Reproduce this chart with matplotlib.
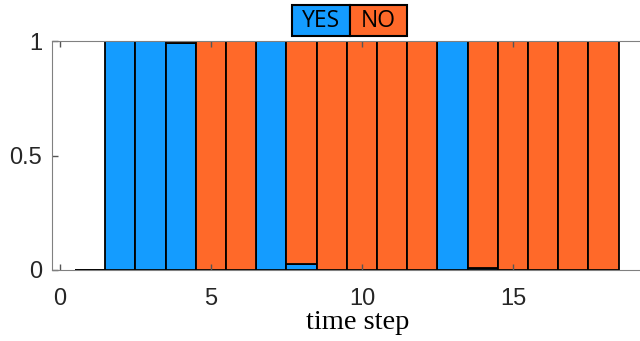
import numpy as np
import matplotlib.pyplot as plt
from matplotlib.patches import Rectangle

# fraction of YES / NO answers per time step
steps = np.arange(1, 19)
yes = [0, 1, 1, 0.99, 0, 0, 1, 0.025, 0, 0, 0, 0, 1, 0.008, 0, 0, 0, 0]
no = [0, 0, 0, 0.01, 1, 1, 0, 0.975, 1, 1, 1, 1, 0, 0.992, 1, 1, 1, 1]
labels = ['YES', 'NO']
colors = ['#149cff', '#ff6929']

fig = plt.figure(figsize=(6.4, 3.41), dpi=100)
ax = fig.add_axes([52/640, 71/341, 612/640, 229/341])

ax.bar(steps, yes, width=1, color=colors[0], edgecolor='black', lw=1.3)
ax.bar(steps, no, width=1, bottom=yes, color=colors[1], edgecolor='black', lw=1.3)

ax.set_xlim(-0.26, 20)
ax.set_ylim(0, 1)
ax.set_xticks([0, 5, 10, 15])
ax.set_yticks([0, 0.5, 1])
ax.set_yticklabels(['0', '0.5', '1'])
ax.tick_params(direction='in', length=4, width=1, color='#555555',
               top=True, labelsize=17, labelcolor='#262626')
ax.tick_params(axis='x', pad=13)
ax.tick_params(axis='y', pad=7)
for lab in ax.get_xticklabels() + ax.get_yticklabels():
    lab.set_family('Liberation Sans')
for s in ['left', 'top', 'bottom']:
    ax.spines[s].set_color('#808080')
ax.spines['right'].set_visible(False)
ax.set_xlabel('time step', family='Liberation Serif', fontsize=20.5, labelpad=0)

# legend drawn as two colored boxes
box_x = [292, 350]
box_w = [58, 57]
for x0, w, lab, c in zip(box_x, box_w, labels, colors):
    fig.add_artist(Rectangle((x0/640, (341-36)/341), w/640, 31/341,
                             transform=fig.transFigure, facecolor=c,
                             edgecolor='black', lw=1.5))
    fig.text((x0 + w/2)/640, (341-21)/341, lab, ha='center', va='center',
             fontsize=16.5, family='Open Sans')

fig.savefig('out.png', dpi=100)
